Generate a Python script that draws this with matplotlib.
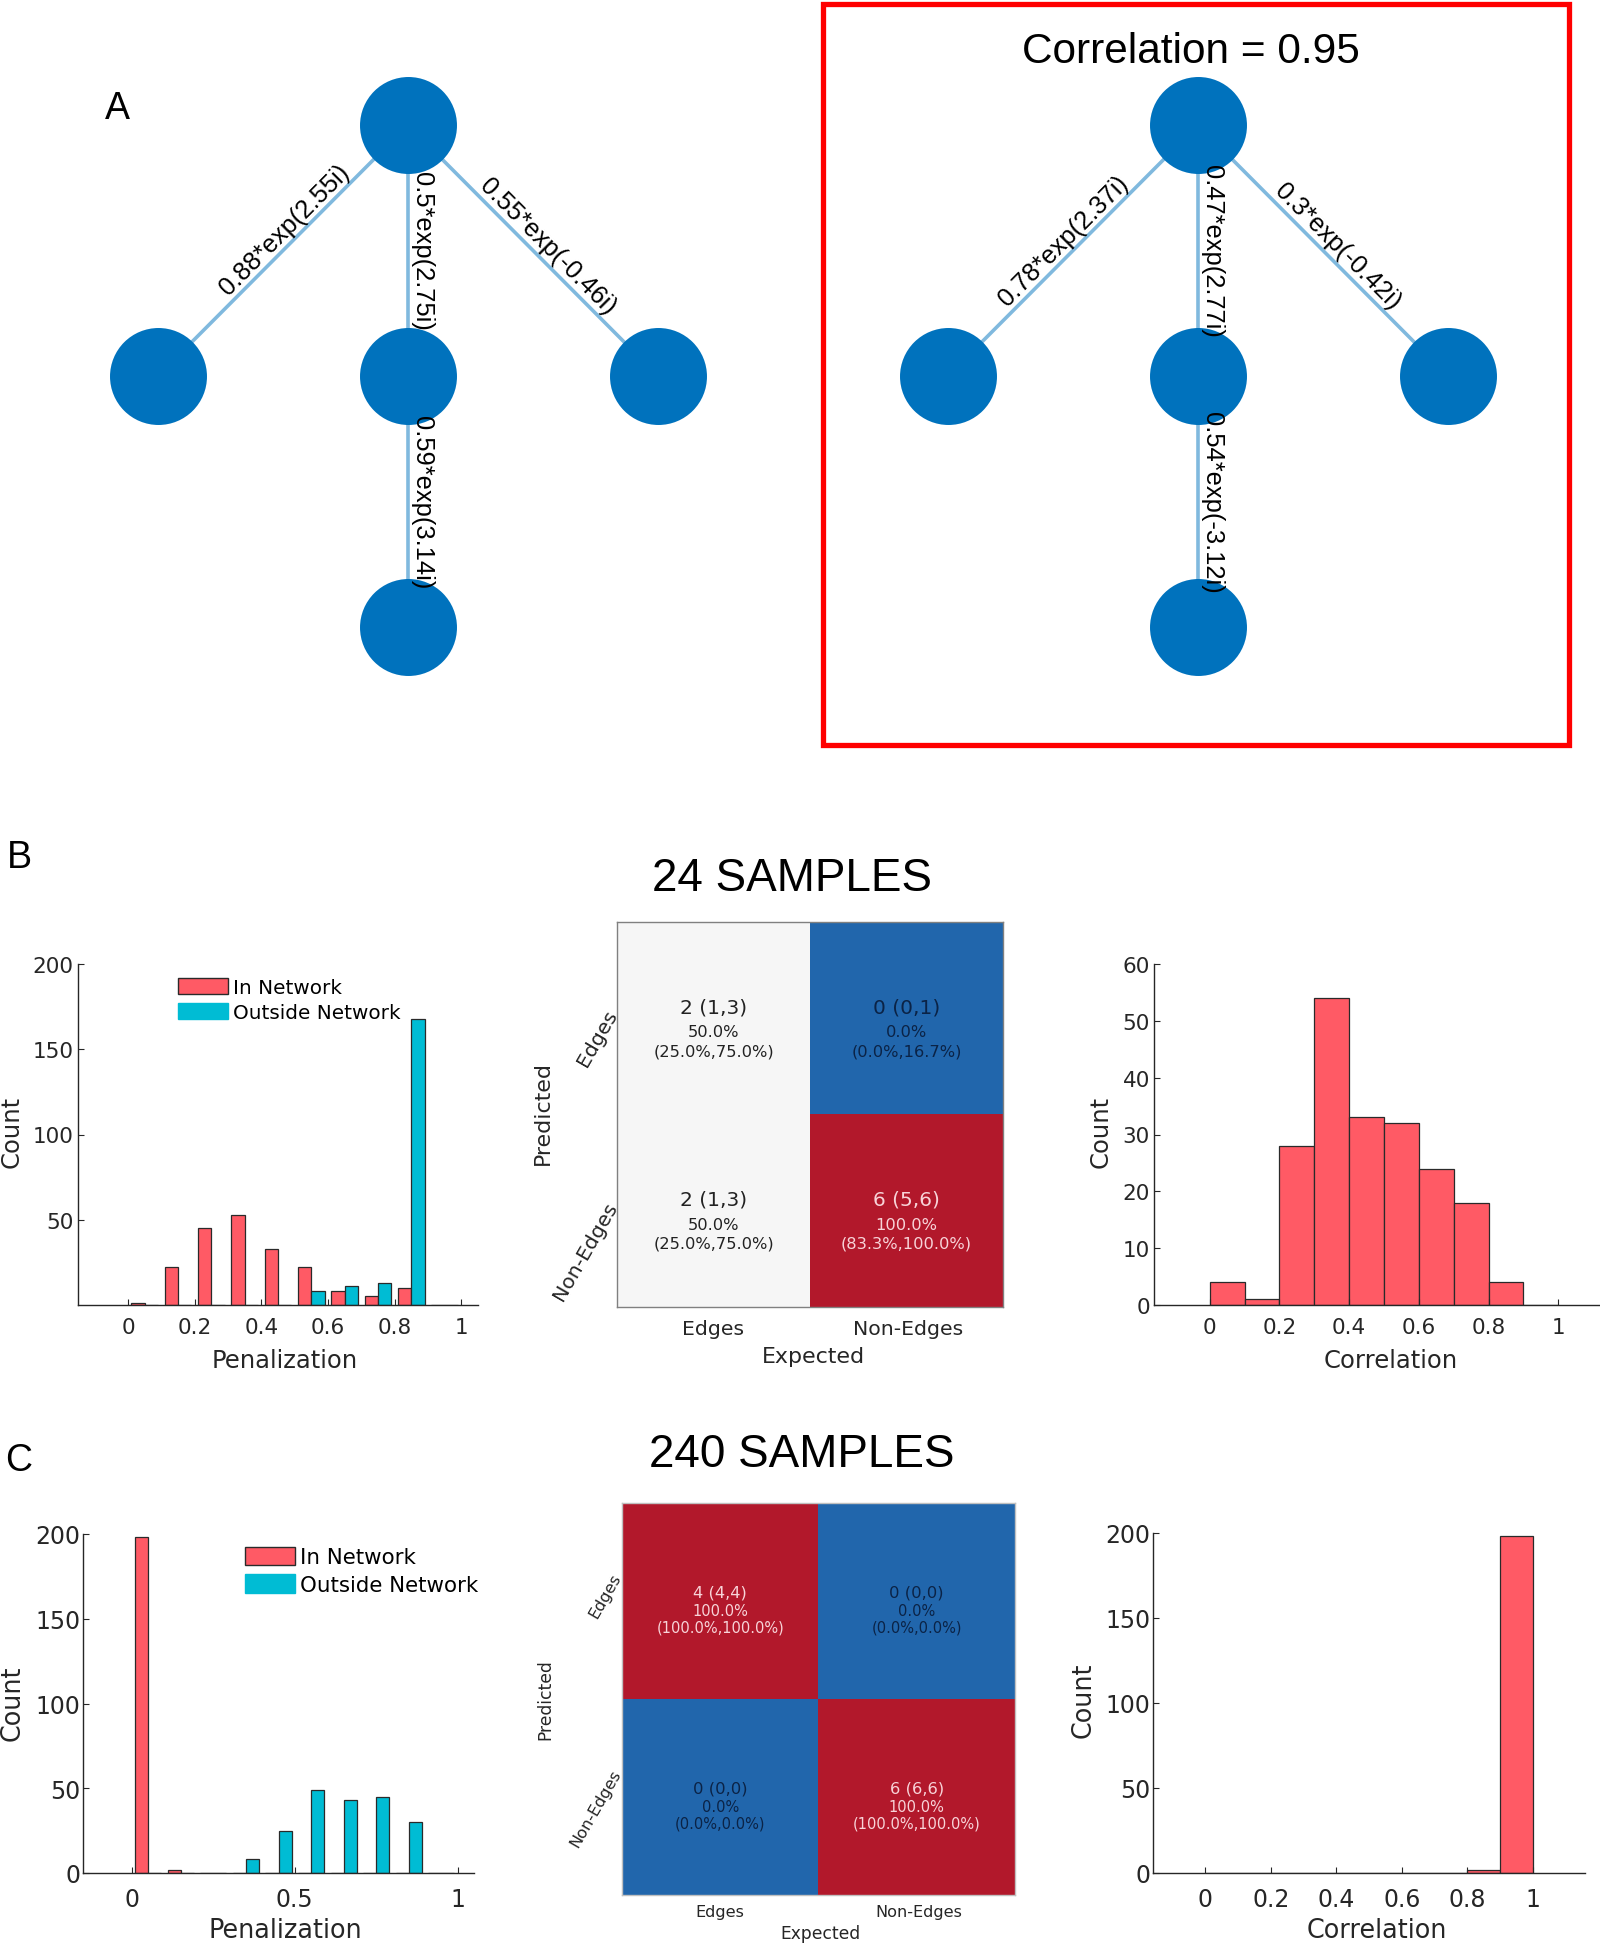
import matplotlib
matplotlib.use('Agg')
import matplotlib.pyplot as plt
import numpy as np
from matplotlib.colors import LinearSegmentedColormap
from matplotlib.patches import Rectangle, Patch

# ---------------- data ----------------
# Panel A: graph layout (hub, left, mid, right, bottom) and edges
node_x = [0, -1, 0, 1, 0]
node_y = [0, -1, -1, -1, -2]
edge_src = [0, 0, 0, 2]
edge_dst = [1, 2, 3, 4]
true_edge_labels = ["0.88*exp(2.55i)", "0.5*exp(2.75i)", "0.55*exp(-0.46i)", "0.59*exp(3.14i)"]
est_edge_labels = ["0.78*exp(2.37i)", "0.47*exp(2.77i)", "0.3*exp(-0.42i)", "0.54*exp(-3.12i)"]
est_correlation = 0.95

# Histogram bins
bin_centers = [0.05, 0.15, 0.25, 0.35, 0.45, 0.55, 0.65, 0.75, 0.85, 0.95]
bin_width = 0.1

# Panel B (24 samples)
b_pen_in = [1, 22, 45, 53, 33, 22, 8, 5, 10, 0]
b_pen_out = [0, 0, 0, 0, 0, 8, 11, 13, 168, 0]
b_corr = [4, 1, 28, 54, 33, 32, 24, 18, 4, 0]
b_counts = [[2, 0], [2, 6]]
b_counts_lo = [[1, 0], [1, 5]]
b_counts_hi = [[3, 1], [3, 6]]
b_pct = [[50.0, 0.0], [50.0, 100.0]]
b_pct_lo = [[25.0, 0.0], [25.0, 83.3]]
b_pct_hi = [[75.0, 16.7], [75.0, 100.0]]

# Panel C (240 samples)
c_pen_in = [198, 2, 0, 0, 0, 0, 0, 0, 0, 0]
c_pen_out = [0, 0, 0, 8, 25, 49, 43, 45, 30, 0]
c_corr = [0, 0, 0, 0, 0, 0, 0, 0, 2, 198]
c_counts = [[4, 0], [0, 6]]
c_counts_lo = [[4, 0], [0, 6]]
c_counts_hi = [[4, 0], [0, 6]]
c_pct = [[100.0, 0.0], [0.0, 100.0]]
c_pct_lo = [[100.0, 0.0], [0.0, 100.0]]
c_pct_hi = [[100.0, 0.0], [0.0, 100.0]]

class_labels = ["Edges", "Non-Edges"]
legend_labels = ["In Network", "Outside Network"]
pen_xticks_b = [0, 0.2, 0.4, 0.6, 0.8, 1]
pen_xticks_c = [0, 0.5, 1]
corr_xticks = [0, 0.2, 0.4, 0.6, 0.8, 1]

# ---------------- styles ----------------
RED = '#ff5a65'
CYAN = '#00bcd4'
EDGE = '#2a2a2a'
NODE = '#0072bd'
LINK = '#80b9de'
TXT = '#262626'
SANS = 'Liberation Sans'
plt.rcParams['font.family'] = ['DejaVu Sans']

# label shifts along the edge (pixels), per edge
shift_true = [16, 0, 7, 0]
shift_est = [0, 0, 7, 0]

W, H = 1600, 1949
fig = plt.figure(figsize=(W / 100, H / 100), dpi=100)


def px_axes(x0, y0, x1, y1):
    return fig.add_axes([x0 / W, 1 - y1 / H, (x1 - x0) / W, (y1 - y0) / H])


def ftext(x, y, s, **kw):
    fig.text(x / W, 1 - y / H, s, **kw)


# ---------------- Panel A ----------------
def draw_graph(ax, labels, shifts):
    ax.set_xlim(-1.5, 1.5)
    ax.set_ylim(-2.5, 0.5)
    ax.axis('off')
    for s, d in zip(edge_src, edge_dst):
        ax.plot([node_x[s], node_x[d]], [node_y[s], node_y[d]], color=LINK, lw=2.6,
                zorder=1, solid_capstyle='butt')
    ax.scatter(node_x, node_y, s=4875, color=NODE, zorder=2, linewidths=0)
    for s, d, lab, sh in zip(edge_src, edge_dst, labels, shifts):
        p0 = ax.transData.transform((node_x[s], node_y[s]))
        p1 = ax.transData.transform((node_x[d], node_y[d]))
        dx, dy = p1 - p0
        if abs(dx) < 1e-6:
            ang = -90.0
        else:
            ang = np.degrees(np.arctan2(dy, dx))
            if ang > 90:
                ang -= 180
            elif ang <= -90:
                ang += 180
        mx = (node_x[s] + node_x[d]) / 2
        my = (node_y[s] + node_y[d]) / 2
        r = np.radians(ang)
        off = (sh * np.cos(r) - 2 * np.sin(r), sh * np.sin(r) + 2 * np.cos(r))
        ax.annotate(lab, (mx, my), xytext=(off[0] * 0.72, off[1] * 0.72),
                    textcoords='offset points', rotation=ang, rotation_mode='anchor',
                    ha='center', va='bottom', fontsize=18.4, family=SANS,
                    color='black', zorder=3)


ax_a1 = px_axes(33, 0.5, 783, 753.5)
draw_graph(ax_a1, true_edge_labels, shift_true)
ax_a2 = px_axes(823, 0.5, 1573, 753.5)
draw_graph(ax_a2, est_edge_labels, shift_est)

fig.add_artist(Rectangle((823 / W, 1 - 746 / H), (1569 - 823) / W, (746 - 5) / H,
                         transform=fig.transFigure, fill=False, ec='#ff0000', lw=3.8))
ftext(1191, 52, f"Correlation = {est_correlation:.2f}", fontsize=30.5, family=SANS,
      ha='center', va='center')
ftext(117, 109, "A", fontsize=27, family=SANS, ha='center', va='center')
ftext(19, 858, "B", fontsize=27, family=SANS, ha='center', va='center')
ftext(19, 1461, "C", fontsize=27, family=SANS, ha='center', va='center')
ftext(792, 879, "24 SAMPLES", fontsize=33, family=SANS, ha='center', va='center')
ftext(802, 1455, "240 SAMPLES", fontsize=33, family=SANS, ha='center', va='center')


# ---------------- histograms ----------------
def style_hist(ax, xlim, ylim, xticks, yticks, fs, xpad, ypad):
    ax.set_xlim(*xlim)
    ax.set_ylim(*ylim)
    for s in ['top', 'right']:
        ax.spines[s].set_visible(False)
    for s in ['left', 'bottom']:
        ax.spines[s].set_color(TXT)
        ax.spines[s].set_linewidth(1.0)
    ax.set_xticks(xticks)
    ax.set_xticklabels([f"{v:g}" for v in xticks])
    ax.set_yticks(yticks)
    ax.set_yticklabels([f"{v:g}" for v in yticks])
    ax.tick_params(direction='in', length=4, width=0.8, colors=TXT, labelsize=fs)
    ax.tick_params(axis='x', pad=xpad)
    ax.tick_params(axis='y', pad=ypad)
    ax.patch.set_visible(False)


def label_hist(ax, xlabel, xl_pos, yl_pos, fs):
    ax.text(xl_pos[0], xl_pos[1], xlabel, transform=ax.transAxes, ha='center',
            va='center', fontsize=fs, color=TXT)
    ax.text(yl_pos[0], yl_pos[1], "Count", transform=ax.transAxes, ha='center',
            va='center', fontsize=fs, color=TXT, rotation=90)


def grouped(ax, red, cyan):
    c = np.array(bin_centers)
    ax.bar(c - 0.02, red, width=0.04, color=RED, edgecolor=EDGE, linewidth=0.9)
    ax.bar(c + 0.02, cyan, width=0.04, color=CYAN, edgecolor=EDGE, linewidth=0.9)


def single(ax, vals):
    ax.bar(bin_centers, vals, width=bin_width, color=RED, edgecolor=EDGE, linewidth=0.9)


def legend(ax, anchor, fs, hl, hh, ls):
    handles = [Patch(facecolor=RED, edgecolor=EDGE, linewidth=1.0),
               Patch(facecolor=CYAN, edgecolor=CYAN, linewidth=1.0)]
    ax.legend(handles, legend_labels, loc='upper left', bbox_to_anchor=anchor,
              frameon=False, fontsize=fs, handlelength=hl, handleheight=hh,
              handletextpad=0.25, labelspacing=ls, borderpad=0, borderaxespad=0)


# B left
ax = px_axes(78, 965, 478, 1306)
grouped(ax, b_pen_in, b_pen_out)
style_hist(ax, (-0.15, 1.05), (0, 200), pen_xticks_b, [50, 100, 150, 200], 15.5, 9, 3)
label_hist(ax, "Penalization", (0.517, -0.162), (-0.165, 0.51), 17.5)
legend(ax, (0.25, 0.96), 14.4, 2.5, 0.9, 0.3)

# B right
ax = px_axes(1154, 965, 1614, 1306)
single(ax, b_corr)
style_hist(ax, (-0.16, 1.16), (0, 60), corr_xticks, [0, 10, 20, 30, 40, 50, 60], 15.5, 9, 3)
label_hist(ax, "Correlation", (0.515, -0.162), (-0.117, 0.51), 17.5)

# C left
ax = px_axes(83, 1535, 474, 1874)
grouped(ax, c_pen_in, c_pen_out)
style_hist(ax, (-0.15, 1.05), (0, 200), pen_xticks_c, [0, 50, 100, 150, 200], 17, 10, 2)
label_hist(ax, "Penalization", (0.517, -0.168), (-0.18, 0.504), 18.4)
legend(ax, (0.414, 0.963), 15.4, 2.35, 0.95, 0.34)

# C right
ax = px_axes(1153, 1534, 1585, 1874)
single(ax, c_corr)
style_hist(ax, (-0.16, 1.16), (0, 200), corr_xticks, [0, 50, 100, 150, 200], 17, 10, 2)
label_hist(ax, "Correlation", (0.519, -0.168), (-0.16, 0.51), 18.4)

# ---------------- confusion matrices ----------------
cmap = LinearSegmentedColormap.from_list('rb', ['#2166ac', '#f7f7f7', '#b2182b'])


def text_color(p):
    if p >= 75:
        return '#f8d3d8'
    if p <= 25:
        return '#0b2346'
    return '#222222'


def confmat(box, counts, lo, hi, pct, plo, phi, fs1, fs2, dys, lab_fs, title_fs,
            col_y, exp_pos, pred_pos, rowx, rowdy, border):
    ax = px_axes(*box)
    ax.imshow(np.array(pct) / 100.0, cmap=cmap, vmin=0, vmax=1, extent=(0, 2, 2, 0),
              aspect='auto', interpolation='nearest')
    ax.set_xticks([])
    ax.set_yticks([])
    for s in ax.spines.values():
        s.set_color(border)
        s.set_linewidth(1.0)
    for i in range(2):
        for j in range(2):
            col = text_color(pct[i][j])
            ax.text(j + 0.5, i + 0.5 + dys[0], f"{counts[i][j]} ({lo[i][j]},{hi[i][j]})",
                    ha='center', va='center', fontsize=fs1, color=col)
            ax.text(j + 0.5, i + 0.5 + dys[1], f"{pct[i][j]:.1f}%",
                    ha='center', va='center', fontsize=fs2, color=col)
            ax.text(j + 0.5, i + 0.5 + dys[2], f"({plo[i][j]:.1f}%,{phi[i][j]:.1f}%)",
                    ha='center', va='center', fontsize=fs2, color=col)
    for k, lab in enumerate(class_labels):
        ax.text(0.25 + 0.5 * k + 0.005 * k, col_y, lab, transform=ax.transAxes,
                ha='center', va='center', fontsize=lab_fs, color=TXT)
        ax.text(rowx, 0.75 - 0.5 * k + rowdy, lab, transform=ax.transAxes, ha='right',
                va='center', rotation=60, rotation_mode='anchor', fontsize=lab_fs, color=TXT)
    ax.text(exp_pos[0], exp_pos[1], "Expected", transform=ax.transAxes, ha='center',
            va='center', fontsize=title_fs, color=TXT)
    ax.text(pred_pos[0], pred_pos[1], "Predicted", transform=ax.transAxes, ha='center',
            va='center', fontsize=title_fs, color=TXT, rotation=90)


confmat((617, 923, 1003, 1308), b_counts, b_counts_lo, b_counts_hi, b_pct, b_pct_lo, b_pct_hi,
        14.5, 11.7, (-0.06, 0.07, 0.17), 14.7, 15.9, -0.055, (0.51, -0.127),
        (-0.192, 0.506), -0.012, 0.02, '#808080')
confmat((622, 1504, 1015, 1896), c_counts, c_counts_lo, c_counts_hi, c_pct, c_pct_lo, c_pct_hi,
        11.8, 10.5, (-0.046, 0.046, 0.133), 11.6, 12.3, -0.041, (0.504, -0.097),
        (-0.196, 0.5), -0.012, 0.07, '#c0c0c0')

fig.savefig('out.png', dpi=100, facecolor='white')
